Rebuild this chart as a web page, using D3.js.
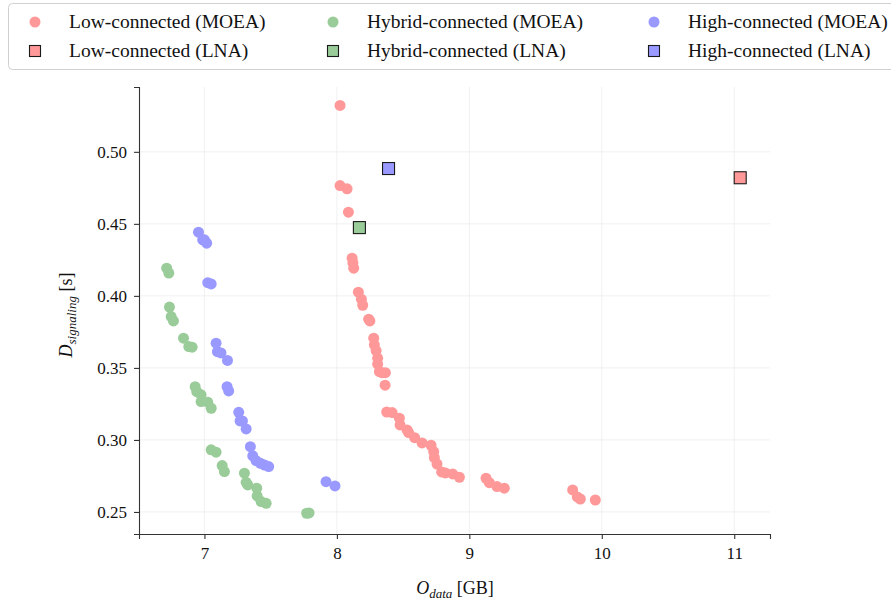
<!DOCTYPE html>
<html lang="en">
<head>
    <style>
        body { margin: 0; background: #fff; }
        svg { width: 891px; height: 600px; display: block; }
        text { font-family: "Liberation Serif", "DejaVu Serif", serif; fill: #111; }
    </style>
</head>
<body>
    <svg></svg>
    <script src="https://cdn.jsdelivr.net/npm/d3@7"></script>
    <script>
        const svg = d3.select("svg");
        const width = 891, height = 600;

        /************************************************************************************
        * Data  (x = O_data [GB], y = D_signaling [s])
        ************************************************************************************/
        const lowMoeaX = [8.024, 8.024, 8.077, 8.087, 8.115, 8.121, 8.127, 8.162, 8.185, 8.195, 8.240, 8.249,
            8.278, 8.283, 8.296, 8.308, 8.308, 8.321, 8.341, 8.366, 8.364, 8.376, 8.417, 8.472, 8.477, 8.530,
            8.542, 8.587, 8.643, 8.711, 8.731, 8.736, 8.756, 8.791, 8.819, 8.874, 8.925, 9.126, 9.151, 9.209,
            9.264, 9.780, 9.815, 9.838, 9.951];
        const lowMoeaY = [0.5322, 0.4766, 0.4743, 0.4581, 0.4262, 0.4229, 0.4192, 0.4026, 0.3977, 0.3935, 0.3838, 0.3826,
            0.3706, 0.3660, 0.3620, 0.3567, 0.3526, 0.3474, 0.3467, 0.3467, 0.3380, 0.3194, 0.3190, 0.3151, 0.3104, 0.3069,
            0.3051, 0.3016, 0.2979, 0.2963, 0.2919, 0.2877, 0.2833, 0.2778, 0.2771, 0.2764, 0.2741, 0.2734, 0.2703, 0.2676,
            0.2665, 0.2653, 0.2604, 0.2590, 0.2583];

        const hybridMoeaX = [6.715, 6.731, 6.736, 6.749, 6.766, 6.842, 6.882, 6.907, 6.930, 6.942, 6.975, 6.975,
            7.025, 7.051, 7.051, 7.088, 7.134, 7.151, 7.302, 7.315, 7.327, 7.395, 7.398, 7.428, 7.466, 7.772, 7.790];
        const hybridMoeaY = [0.4192, 0.4158, 0.3922, 0.3856, 0.3826, 0.3706, 0.3648, 0.3644, 0.3370, 0.3335, 0.3313, 0.3266,
            0.3262, 0.3220, 0.2931, 0.2915, 0.2822, 0.2780, 0.2769, 0.2706, 0.2688, 0.2665, 0.2611, 0.2572, 0.2560, 0.2491, 0.2493];

        const highMoeaX = [6.955, 6.987, 7.000, 7.017, 7.025, 7.051, 7.088, 7.098, 7.125, 7.174, 7.171, 7.183,
            7.259, 7.269, 7.287, 7.315, 7.347, 7.365, 7.390, 7.423, 7.453, 7.485, 7.918, 7.986];
        const highMoeaY = [0.4442, 0.4389, 0.4389, 0.4366, 0.4092, 0.4083, 0.3672, 0.3613, 0.3604, 0.3552, 0.3370, 0.3340,
            0.3192, 0.3132, 0.3132, 0.3076, 0.2953, 0.2889, 0.2856, 0.2838, 0.2826, 0.2815, 0.2710, 0.2681];

        // LNA single solutions: [low, hybrid, high]
        const lnaX = [11.045, 8.17, 8.39];
        const lnaY = [0.482, 0.4474, 0.4884];

        const xTicks = [7, 8, 9, 10, 11];
        const yTicks = [0.25, 0.30, 0.35, 0.40, 0.45, 0.50];

        const seriesNames = ["Low-connected", "Hybrid-connected", "High-connected"];
        const colors = ["#ff9999", "#99cc99", "#9999ff"];

        /************************************************************************************
        * Scales & grid
        ************************************************************************************/
        const plot = { left: 139, right: 770, top: 87, bottom: 534 };
        const x = d3.scaleLinear().domain([6.506, 11.27]).range([plot.left, plot.right]);
        const y = d3.scaleLinear().domain([0.2347, 0.545]).range([plot.bottom, plot.top]);

        const grid = svg.append("g");
        grid.selectAll(".gx").data(xTicks).enter().append("line")
            .attr("x1", d => x(d)).attr("x2", d => x(d))
            .attr("y1", plot.top).attr("y2", plot.bottom)
            .attr("stroke", "#ececec").attr("stroke-width", 0.8);
        grid.selectAll(".gy").data(yTicks).enter().append("line")
            .attr("x1", plot.left).attr("x2", plot.right)
            .attr("y1", d => y(d)).attr("y2", d => y(d))
            .attr("stroke", "#ececec").attr("stroke-width", 0.8);

        /************************************************************************************
        * Axes
        ************************************************************************************/
        const xAxis = svg.append("g").attr("transform", `translate(0, ${plot.bottom})`)
            .call(d3.axisBottom(x).tickValues(xTicks).tickFormat(d3.format("d")).tickSizeOuter(0).tickSize(5).tickPadding(8));
        const yAxis = svg.append("g").attr("transform", `translate(${plot.left}, 0)`)
            .call(d3.axisLeft(y).tickValues(yTicks).tickFormat(d3.format(".2f")).tickSizeOuter(0).tickSize(5).tickPadding(7));
        [xAxis, yAxis].forEach(a => {
            a.select(".domain").attr("stroke", "#333").attr("stroke-width", 1.1);
            a.selectAll(".tick line").attr("stroke", "#333").attr("stroke-width", 1.1);
            a.selectAll(".tick text").style("font-family", '"Liberation Serif", serif')
                .style("font-size", "17px").attr("fill", "#111");
        });

        // axis labels with italic math + subscript
        const xl = svg.append("text").attr("x", 455).attr("y", 594).attr("text-anchor", "middle").style("font-size", "18px");
        xl.append("tspan").attr("font-style", "italic").text("O");
        xl.append("tspan").attr("font-style", "italic").attr("font-size", "13px").attr("dy", 4).text("data");
        xl.append("tspan").attr("dy", -4).text(" [GB]");

        const yl = svg.append("text").attr("transform", "translate(72, 315) rotate(-90)")
            .attr("text-anchor", "middle").style("font-size", "18px");
        yl.append("tspan").attr("font-style", "italic").text("D");
        yl.append("tspan").attr("font-style", "italic").attr("font-size", "13px").attr("dy", 4).text("signaling");
        yl.append("tspan").attr("dy", -4).text(" [s]");

        /************************************************************************************
        * Marks
        ************************************************************************************/
        const moea = [
            lowMoeaX.map((v, i) => ({ x: v, y: lowMoeaY[i] })),
            hybridMoeaX.map((v, i) => ({ x: v, y: hybridMoeaY[i] })),
            highMoeaX.map((v, i) => ({ x: v, y: highMoeaY[i] }))
        ];
        const sq = 12;
        moea.forEach((pts, k) => {
            svg.append("g").selectAll("circle").data(pts).enter().append("circle")
                .attr("cx", d => x(d.x)).attr("cy", d => y(d.y)).attr("r", 5.5)
                .attr("fill", colors[k]);
            svg.append("rect")
                .attr("x", x(lnaX[k]) - sq / 2).attr("y", y(lnaY[k]) - sq / 2)
                .attr("width", sq).attr("height", sq)
                .attr("fill", colors[k]).attr("stroke", "#1a1a1a").attr("stroke-width", 1.1);
        });

        /************************************************************************************
        * Legend
        ************************************************************************************/
        const legend = svg.append("g");
        legend.append("rect").attr("x", 8.5).attr("y", 3.5).attr("width", 900).attr("height", 66)
            .attr("rx", 4).attr("fill", "#fff").attr("stroke", "#d0d0d0").attr("stroke-width", 1);
        const colX = [35, 333, 654];
        seriesNames.forEach((name, k) => {
            legend.append("circle").attr("cx", colX[k]).attr("cy", 22).attr("r", 5.5).attr("fill", colors[k]);
            legend.append("text").attr("x", colX[k] + 34).attr("y", 28).style("font-size", "19.5px").text(`${name} (MOEA)`);
            legend.append("rect").attr("x", colX[k] - 5.5).attr("y", 45.5).attr("width", 11).attr("height", 11)
                .attr("fill", colors[k]).attr("stroke", "#1a1a1a").attr("stroke-width", 1.1);
            legend.append("text").attr("x", colX[k] + 34).attr("y", 57).style("font-size", "19.5px").text(`${name} (LNA)`);
        });
    </script>
</body>
</html>
